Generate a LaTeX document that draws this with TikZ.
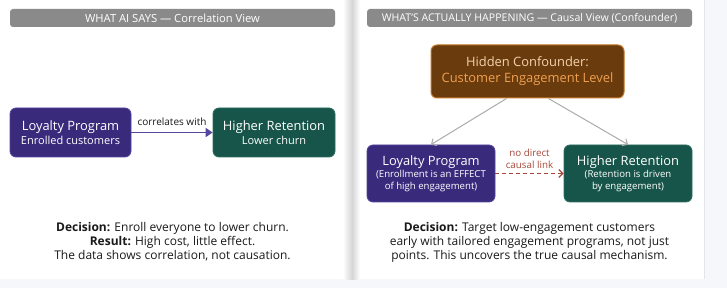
\documentclass[tikz,border=0pt]{standalone}
\usepackage{fontspec}
\setmainfont{Open Sans}
\usetikzlibrary{arrows.meta}
\definecolor{bgc}{HTML}{F6F7FA}
\definecolor{hdr}{HTML}{8A8A8A}
\definecolor{purp}{HTML}{3A2A7C}
\definecolor{purpb}{HTML}{5646A0}
\definecolor{grn}{HTML}{17554A}
\definecolor{grnb}{HTML}{2C6E60}
\definecolor{brn}{HTML}{6A3B0C}
\definecolor{brnb}{HTML}{C4772A}
\definecolor{peach}{HTML}{F4D3AE}
\definecolor{orng}{HTML}{F0A050}
\definecolor{rust}{HTML}{A8483A}
\definecolor{arrg}{HTML}{ABABAB}
\definecolor{txt}{HTML}{1A1A1A}
\newcommand{\bigf}{\fontsize{12.9}{15.5}\selectfont}
\newcommand{\smallf}{\fontsize{9.6}{12}\selectfont}
\tikzset{
  header/.style={fill=hdr, rounded corners=3pt, minimum width=325pt, minimum height=18pt, inner sep=0pt, text=white},
  pbox/.style={fill=purp, draw=purpb, line width=0.8pt, rounded corners=6pt, text=white, align=center, inner sep=0pt},
  gbox/.style={fill=grn, draw=grnb, line width=0.8pt, rounded corners=6pt, text=white, align=center, inner sep=0pt},
  cbox/.style={fill=brn, draw=brnb, line width=1pt, rounded corners=6pt, align=center, inner sep=0pt},
  body/.style={font=\fontsize{12}{14}\selectfont, text=txt, align=center},
  corr/.style={draw=purpb, line width=1.8pt, -{Triangle[length=7pt,width=9pt]}},
  nodir/.style={draw=rust, line width=1.2pt, dash pattern=on 4pt off 3pt, -{Straight Barb[length=4pt,width=8pt]}},
  conarr/.style={draw=arrg, line width=1pt, -{Straight Barb[length=4pt,width=8pt]}},
}
\begin{document}
\begin{tikzpicture}[x=1pt,y=-1pt]
\fill[bgc] (0,0) rectangle (727,288);
\useasboundingbox (0,0) rectangle (727,288);
% panels
\fill[white] (0,0) rectangle (704,279);
\shade[left color=white, right color=black!16] (343,0) rectangle (352,279);
\shade[left color=black!16, right color=white] (352,0) rectangle (360,279);
\draw[black!10, line width=0.6pt] (704,0) -- (704,279);
% left panel
\node[header, font=\fontsize{11.2}{13}\selectfont] (lh) at (172.5,18) {WHAT AI SAYS — Correlation View};
\node[pbox, minimum width=121pt, minimum height=49pt] (lp) at (70.5,132.5)
  {\bigf Loyalty Program\\[2.5pt]\fontsize{11}{13}\selectfont Enrolled customers};
\node[gbox, minimum width=122pt, minimum height=49pt] (hr) at (274,132.5)
  {\bigf Higher Retention\\[2.5pt]\fontsize{11}{13}\selectfont Lower churn};
\draw[corr] (lp.east) -- (hr.west) node[midway, above=3pt, text=txt, font=\fontsize{10}{12}\selectfont] (cl) {correlates with};
\node[body] (ld) at (172.5,242) {\textbf{Decision:} Enroll everyone to lower churn.\\\textbf{Result:} High cost, little effect.\\The data shows correlation, not causation.};
% right panel
\node[header, font=\fontsize{10.6}{12}\selectfont] (rh) at (529.5,18) {WHAT'S ACTUALLY HAPPENING — Causal View (Confounder)};
\node[cbox, minimum width=193pt, minimum height=53pt, font=\bigf] (cf) at (527.5,71.5)
  {\textcolor{peach}{Hidden Confounder:}\\[0.5pt]\textcolor{orng}{Customer Engagement Level}};
\node[pbox, minimum width=128pt, minimum height=57pt] (lp2) at (431,173.5)
  {\bigf Loyalty Program\\[0pt]\smallf (Enrollment is an EFFECT\\\smallf of high engagement)};
\node[gbox, minimum width=128pt, minimum height=57pt] (hr2) at (628,173.5)
  {\bigf Higher Retention\\[0pt]\smallf (Retention is driven\\\smallf by engagement)};
\draw[conarr] ([xshift=-21pt]cf.south) -- (lp2.north);
\draw[conarr] ([xshift=21pt]cf.south) -- (hr2.north);
\draw[nodir] (lp2.east) -- (hr2.west);
\node[text=rust, align=center, font=\fontsize{9.8}{11.5}\selectfont] (nl) at (529.5,159) {no direct\\causal link};
\node[body] (rd) at (529.5,242) {\textbf{Decision:} Target low-engagement customers\\early with tailored engagement programs, not just\\points. This uncovers the true causal mechanism.};
\end{tikzpicture}
\end{document}
